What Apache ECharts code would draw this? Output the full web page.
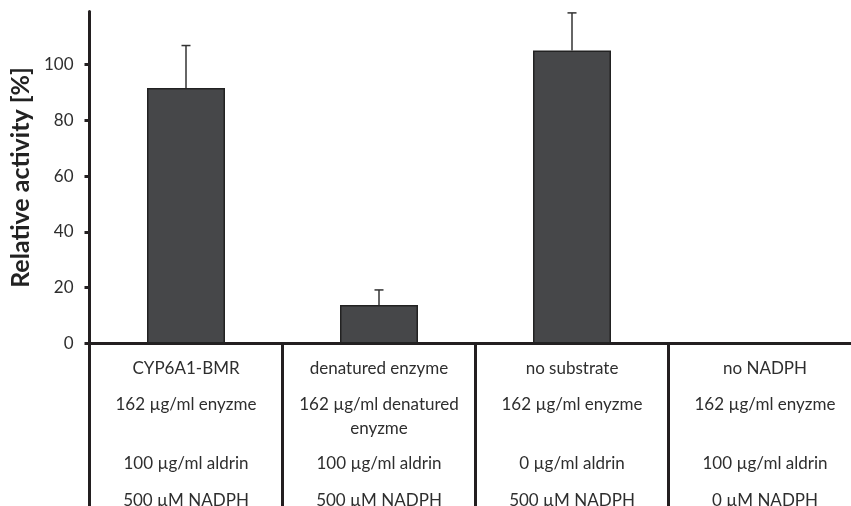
<!DOCTYPE html>
<html>
<head>
<meta charset="utf-8">
<script src="https://cdn.jsdelivr.net/npm/echarts@6/dist/echarts.min.js"></script>
<style>
  html, body { margin: 0; padding: 0; background: #fff; }
  #chart { width: 851px; height: 506px; }
</style>
</head>
<body>
<div id="chart"></div>
<script>
// Assay conditions (one column per condition)
const conditionNames = ['CYP6A1-BMR', 'denatured enzyme', 'no substrate', 'no NADPH'];
const enzymeLines = [
  ['162 µg/ml enyzme', ''],
  ['162 µg/ml denatured', 'enyzme'],
  ['162 µg/ml enyzme', ''],
  ['162 µg/ml enyzme', '']
];
const aldrinLines = ['100 µg/ml aldrin', '100 µg/ml aldrin', '0 µg/ml aldrin', '100 µg/ml aldrin'];
const nadphLines = ['500 µM NADPH', '500 µM NADPH', '500 µM NADPH', '0 µM NADPH'];

// Relative activity (%) and standard deviation
const activity = [91.6, 13.8, 105, 0];
const activitySD = [15.2, 5.4, 13.5, 0];

const yTicks = [0, 20, 40, 60, 80, 100];

const FONT = 'Lato, "Open Sans", sans-serif';
const TEXT = '#2e2e2e';
const AXIS = '#231f20';

const chart = echarts.init(document.getElementById('chart'), null, { renderer: 'canvas' });

const lineStyle = (lh) => ({ fontFamily: FONT, fontSize: 17, color: TEXT, lineHeight: lh });

chart.setOption({
  animation: false,
  backgroundColor: '#ffffff',
  grid: {
    left: 89.5, right: -10.5, top: 11.5, bottom: 162.5,
    containLabel: false, outerBoundsMode: 'none'
  },
  xAxis: {
    type: 'category',
    data: conditionNames,
    boundaryGap: true,
    axisLine: { lineStyle: { color: AXIS, width: 3 } },
    axisTick: { show: true, interval: 0, length: 165, lineStyle: { color: AXIS, width: 3 } },
    axisLabel: {
      interval: 0,
      margin: 7,
      hideOverlap: false,
      formatter: (v, i) => {
        const e = enzymeLines[i];
        return '{a|' + v + '}\n{b|' + e[0] + '}\n{c|' + (e[1] || ' ') + '}\n{d|' +
          aldrinLines[i] + '}\n{e|' + nadphLines[i] + '}';
      },
      rich: {
        a: lineStyle(36),
        b: lineStyle(36),
        c: lineStyle(12),
        d: lineStyle(58),
        e: lineStyle(16)
      }
    },
    splitLine: { show: false }
  },
  yAxis: {
    type: 'value',
    min: 0,
    max: 119,
    interval: 20,
    name: 'Relative activity [%]',
    nameLocation: 'middle',
    nameGap: 50,
    nameTextStyle: { fontFamily: FONT, fontSize: 25, fontWeight: 'bold', color: '#222' },
    axisLine: { show: true, lineStyle: { color: AXIS, width: 3 } },
    axisTick: { show: true, length: 5, customValues: yTicks, lineStyle: { color: AXIS, width: 3 } },
    axisLabel: { customValues: yTicks, margin: 16, fontFamily: FONT, fontSize: 17, color: TEXT },
    splitLine: { show: false }
  },
  series: [
    {
      type: 'bar',
      data: activity,
      barWidth: 78,
      itemStyle: { color: '#464749', borderColor: '#222222', borderWidth: 1.5 },
      z: 2
    },
    {
      // upper error whiskers
      type: 'custom',
      data: activity.map((v, i) => [i, v, activitySD[i]]),
      z: 3,
      renderItem: (params, api) => {
        const sd = api.value(2);
        if (!sd) return null;
        const top = api.coord([api.value(0), api.value(1) + sd]);
        const base = api.coord([api.value(0), api.value(1)]);
        const cap = 4.5;
        const style = { stroke: '#333333', lineWidth: 1.5 };
        return {
          type: 'group',
          children: [
            { type: 'line', shape: { x1: base[0], y1: base[1], x2: top[0], y2: top[1] }, style },
            { type: 'line', shape: { x1: top[0] - cap, y1: top[1], x2: top[0] + cap, y2: top[1] }, style }
          ]
        };
      }
    }
  ]
});
</script>
</body>
</html>
